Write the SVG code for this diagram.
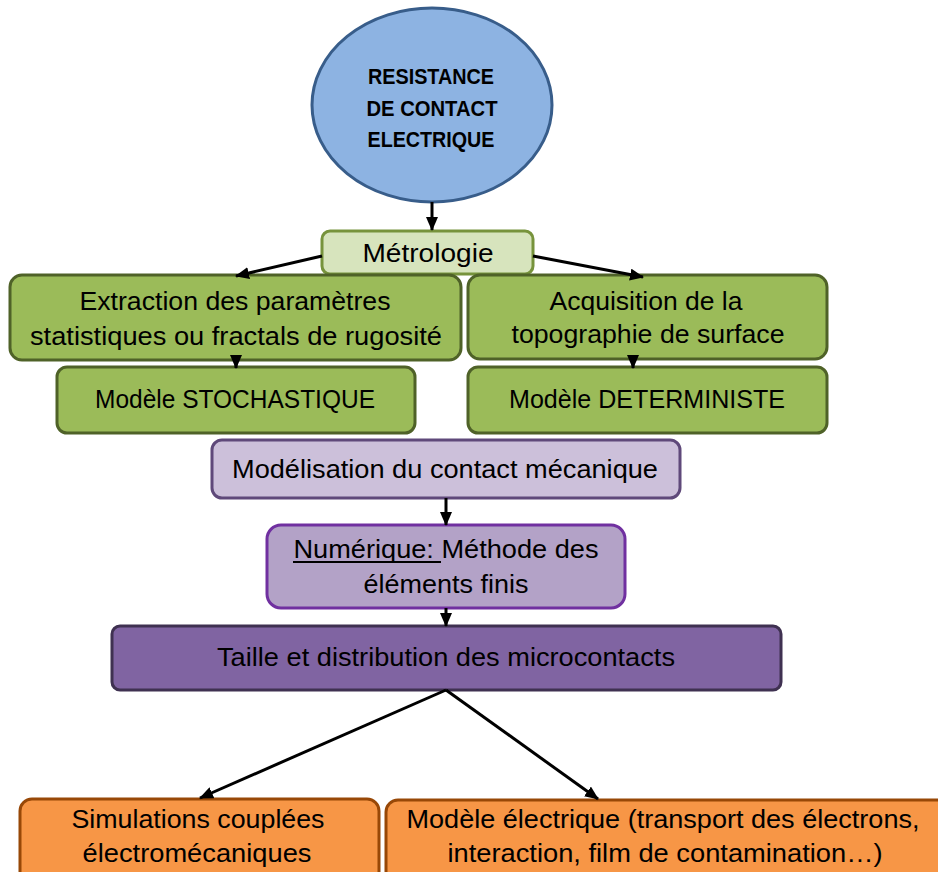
<svg xmlns="http://www.w3.org/2000/svg" width="938" height="872" viewBox="0 0 938 872">
<defs>
<marker id="ah" markerUnits="userSpaceOnUse" markerWidth="14" markerHeight="12" viewBox="0 0 14 12" refX="13" refY="6" orient="auto">
<path d="M0,0 L14,6 L0,12 Z" fill="#000"/>
</marker>
</defs>
<style>
text{font-family:"Liberation Sans",Arial,sans-serif;font-size:25px;fill:#000;text-anchor:middle}
.b{font-weight:bold;font-size:22px}
.green rect{fill:#9bbb59;stroke:#4f6228;stroke-width:3}
.orange rect{fill:#f79646;stroke:#984807;stroke-width:3}
.conn line{stroke:#000;stroke-width:3;marker-end:url(#ah)}
</style>
<rect width="938" height="872" fill="#fff"/>
<g id="resistance">
<ellipse cx="432" cy="105" rx="120" ry="97" fill="#8db3e2" stroke="#385d8a" stroke-width="3"/>
<text class="b" x="431" y="84" textLength="126" lengthAdjust="spacingAndGlyphs">RESISTANCE</text>
<text class="b" x="432" y="116" textLength="131" lengthAdjust="spacingAndGlyphs">DE CONTACT</text>
<text class="b" x="431" y="147" textLength="127" lengthAdjust="spacingAndGlyphs">ELECTRIQUE</text>
</g>
<g id="metrologie">
<rect x="322" y="231" width="211" height="43" rx="8" fill="#d7e4bd" stroke="#77933c" stroke-width="3"/>
<text x="428" y="262" textLength="131" lengthAdjust="spacingAndGlyphs">Métrologie</text>
</g>
<g id="extraction" class="green">
<rect x="10" y="275" width="451" height="85" rx="12"/>
<text x="235" y="310" textLength="311" lengthAdjust="spacingAndGlyphs">Extraction des paramètres</text>
<text x="236" y="345" textLength="412" lengthAdjust="spacingAndGlyphs">statistiques  ou fractals de rugosité</text>
</g>
<g id="stochastique" class="green">
<rect x="57" y="367" width="358" height="66" rx="10"/>
<text x="235" y="408" textLength="280" lengthAdjust="spacingAndGlyphs">Modèle STOCHASTIQUE</text>
</g>
<g id="acquisition" class="green">
<rect x="468" y="275" width="359" height="84" rx="12"/>
<text x="646" y="310" textLength="193" lengthAdjust="spacingAndGlyphs">Acquisition de la</text>
<text x="648" y="343" textLength="273" lengthAdjust="spacingAndGlyphs">topographie de surface</text>
</g>
<g id="deterministe" class="green">
<rect x="468" y="367" width="359" height="66" rx="10"/>
<text x="647" y="408" textLength="276" lengthAdjust="spacingAndGlyphs">Modèle DETERMINISTE</text>
</g>
<g id="modelisation">
<rect x="212" y="440" width="468" height="58" rx="10" fill="#ccc0da" stroke="#5f497a" stroke-width="3"/>
<text x="445" y="478" textLength="426" lengthAdjust="spacingAndGlyphs">Modélisation du contact mécanique</text>
</g>
<g id="numerique">
<rect x="267" y="525" width="358" height="83" rx="14" fill="#b3a2c7" stroke="#7030a0" stroke-width="3"/>
<text x="446" y="558" textLength="305" lengthAdjust="spacingAndGlyphs">Numérique: Méthode des</text>
<line x1="293" y1="562" x2="441" y2="562" stroke="#000" stroke-width="2"/>
<text x="446" y="593" textLength="165" lengthAdjust="spacingAndGlyphs">éléments finis</text>
</g>
<g id="taille">
<rect x="112" y="626" width="669" height="64" rx="8" fill="#8064a2" stroke="#3f3151" stroke-width="3"/>
<text x="446" y="666" textLength="458" lengthAdjust="spacingAndGlyphs">Taille et distribution des microcontacts</text>
</g>
<g id="simulations" class="orange">
<rect x="20" y="799" width="359" height="95" rx="12"/>
<text x="198" y="828" textLength="253" lengthAdjust="spacingAndGlyphs">Simulations couplées</text>
<text x="197" y="862" textLength="229" lengthAdjust="spacingAndGlyphs">électromécaniques</text>
</g>
<g id="electrique" class="orange">
<rect x="386" y="800" width="580" height="95" rx="12"/>
<text x="663" y="828" textLength="513" lengthAdjust="spacingAndGlyphs">Modèle électrique (transport des électrons,</text>
<text x="665" y="862" textLength="435" lengthAdjust="spacingAndGlyphs">interaction, film de contamination…)</text>
</g>
<g id="connectors" class="conn">
<line x1="432" y1="202" x2="432" y2="230"/>
<line x1="322" y1="256" x2="236" y2="276"/>
<line x1="533" y1="256" x2="643" y2="277"/>
<line x1="236" y1="358" x2="236" y2="368"/>
<line x1="633" y1="357" x2="633" y2="368"/>
<line x1="446" y1="498" x2="446" y2="525"/>
<line x1="446" y1="608" x2="446" y2="626"/>
<line x1="446" y1="690" x2="200" y2="798"/>
<line x1="446" y1="690" x2="598" y2="799"/>
</g>
</svg>
